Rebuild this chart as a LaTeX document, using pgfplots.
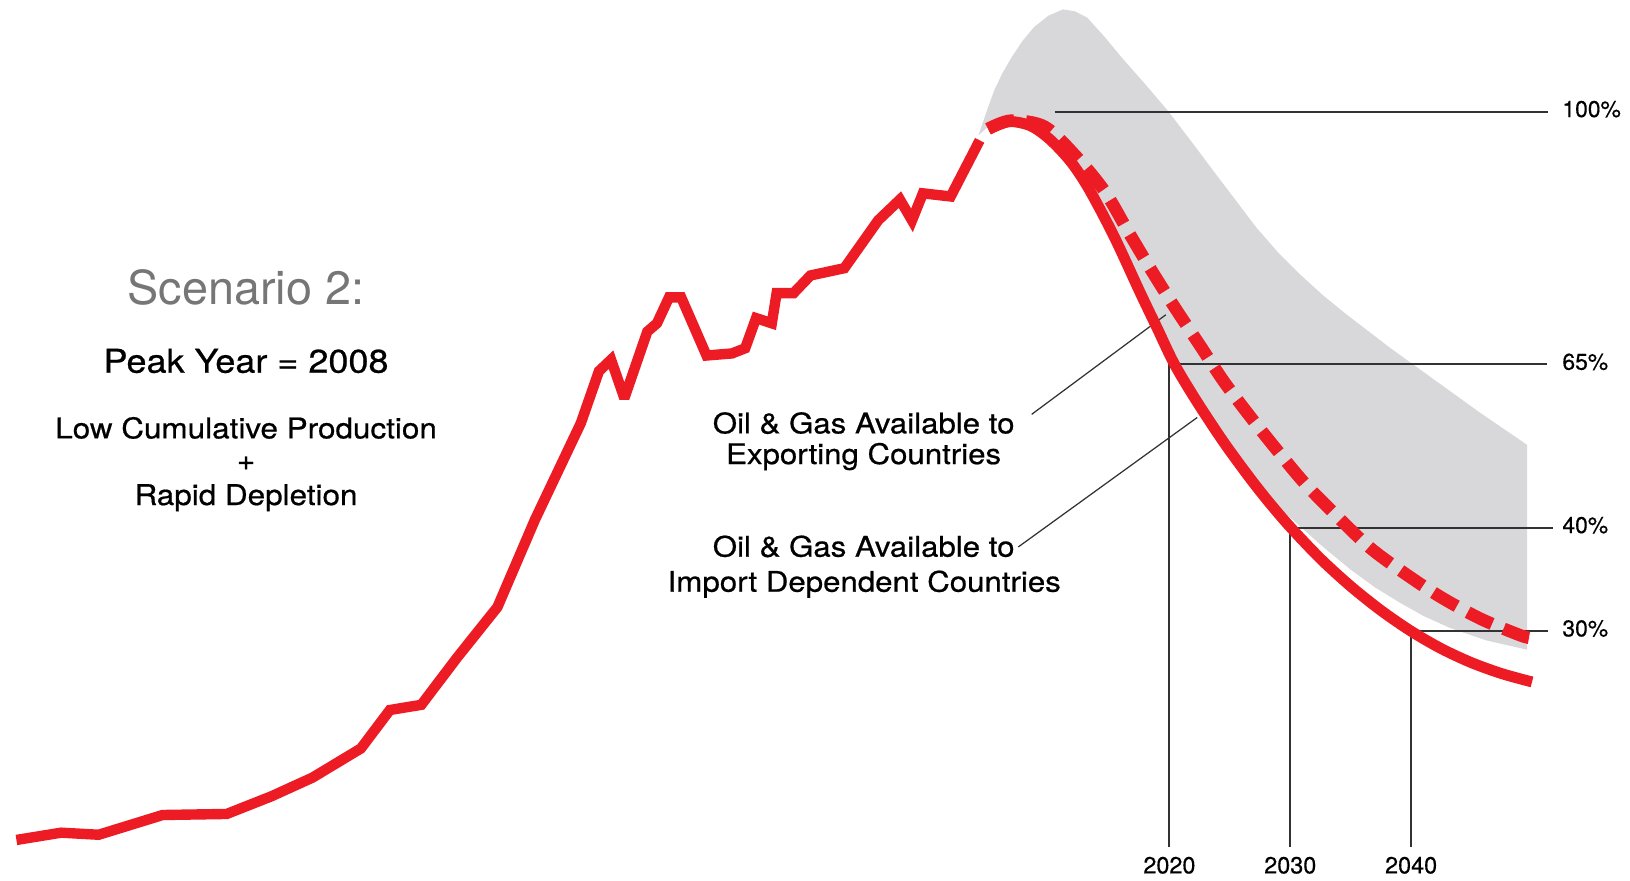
\documentclass[border=0pt]{standalone}
\usepackage{pgfplots}
\pgfplotsset{compat=1.18}
\usepackage{fontspec}
\setmainfont{TeX Gyre Heros}
\newfontfamily\wfont[FakeStretch=1.1,FakeBold=0.6]{TeX Gyre Heros}
\newfontfamily\lfont[FakeBold=0.4]{TeX Gyre Heros}
\definecolor{oilred}{RGB}{237,28,36}
\definecolor{band}{RGB}{216,216,219}
\definecolor{guide}{RGB}{50,50,50}
\definecolor{scen}{RGB}{118,118,118}
\begin{document}
\begin{tikzpicture}
\begin{axis}[hide axis, scale only axis, width=1568pt, height=847pt,
  xmin=1923.24, xmax=2058.11, ymin=0, ymax=847, clip=false]
% grey band
\addplot[fill=band, draw=none] coordinates {
(2004.2,717) (2005.0,744) (2005.5,760) (2006.2,777) (2006.9,791) (2007.8,807)
(2008.8,821) (2010.0,832) (2011.2,838) (2012.2,836) (2013.2,830) (2014.6,812)
(2016.1,791) (2018.0,766) (2019.9,740) (2022.0,708) (2024.2,674) (2027.2,628)
(2029.0,604) (2030.9,582) (2032.7,563) (2034.6,545) (2038.3,512) (2042.0,481)
(2045.7,450) (2049.6,419)
(2049.6,222) (2046.2,231) (2043.2,243) (2041.1,254) (2039.1,267) (2037.0,282)
(2035.0,299) (2032.6,322) (2030.2,347)
(2028.3,365) (2026.7,388) (2024.5,423) (2022.2,464) (2020.4,499) (2019.0,533)
(2017.6,567) (2015.4,622) (2013.3,668) (2011.8,694) (2010.1,715) (2008.5,728)
(2006.7,732) (2005.0,725)} -- cycle;
% guide lines
\addplot[guide, line width=1.8pt] coordinates {(2010.5,739.6) (2051.3,739.6)};
\addplot[guide, line width=1.8pt] coordinates {(2020,32) (2020,496.5) (2051.2,496.5)};
\addplot[guide, line width=1.8pt] coordinates {(2030,32) (2030,339.4) (2051.7,339.4)};
\addplot[guide, line width=1.8pt] coordinates {(2040,32) (2040,240) (2051.3,240)};
% leader lines
\addplot[guide, line width=1.2pt] coordinates {(2008.6,448.4) (2019.7,544.2)};
\addplot[guide, line width=1.2pt] coordinates {(2007.5,320.9) (2022.3,445.4)};
% historical production
\addplot[oilred, line width=10pt, line join=miter, miter limit=3, line cap=butt] coordinates {
(1924.6,39) (1928.3,46) (1931.4,44) (1936.7,63) (1942.0,64) (1945.7,81)
(1949.1,99) (1953.1,127) (1955.5,164) (1958.1,169) (1961.1,215) (1964.4,263)
(1967.5,347) (1971.3,440) (1972.8,490) (1973.8,501) (1974.9,464) (1976.8,528)
(1977.6,536) (1978.6,561) (1979.6,561) (1981.7,505) (1983.8,507) (1984.9,512)
(1985.8,541) (1987.1,536) (1987.5,565) (1988.9,565) (1990.3,582) (1993.1,589)
(1995.9,635) (1997.7,655) (1998.7,635) (1999.6,661) (2001.9,658) (2004.3,712)};
% exporting countries (dashed)
\addplot[oilred, line width=12pt, line cap=butt, smooth, tension=0.5, dash pattern=on 26pt off 12pt] coordinates {
(2005.0,723) (2006.9,731) (2009.7,725) (2012.4,695) (2014.7,662) (2016.6,624)
(2018.4,589) (2020.4,552) (2022.4,517) (2024.5,480) (2026.7,446) (2028.9,414)
(2031.2,382) (2033.9,350) (2036.6,320) (2039.4,296) (2042.4,273) (2045.7,252)
(2049.0,236) (2050.0,233)};
% import dependent countries (solid)
\addplot[oilred, line width=10.5pt, line cap=butt, smooth, tension=0.5] coordinates {
(2005.0,723) (2006.7,730) (2008.5,726) (2010.1,713) (2011.8,692) (2013.3,666)
(2015.4,620) (2017.6,565) (2019.0,531) (2020.4,497) (2022.2,462) (2024.5,421.5)
(2026.7,386.5) (2028.3,363) (2030.0,340) (2032.5,309.5) (2035.0,283) (2037.5,259.8)
(2040.0,239.8) (2042.5,223) (2045.0,209.5) (2047.5,199) (2050.0,191)};
% texts
\node[anchor=base, inner sep=0, text=scen, font=\fontsize{45}{50}\selectfont] at (axis cs:1943.6,553.6) {Scenario 2:};
\node[anchor=base, inner sep=0, font=\wfont\fontsize{31.5}{35}\selectfont] at (axis cs:1943.6,488.5) {Peak Year = 2008};
\node[anchor=base, inner sep=0, font=\wfont\fontsize{27.5}{30}\selectfont] at (axis cs:1943.6,425.3) {Low Cumulative Production};
\node[anchor=center, inner sep=0, font=\wfont\fontsize{27.5}{30}\selectfont] at (axis cs:1943.6,401.3) {+};
\node[anchor=base, inner sep=0, font=\wfont\fontsize{27.5}{30}\selectfont] at (axis cs:1943.6,361.2) {Rapid Depletion};
\node[anchor=base, inner sep=0, font=\wfont\fontsize{27.3}{30}\selectfont] at (axis cs:1994.7,430.1) {Oil \& Gas Available to};
\node[anchor=base, inner sep=0, font=\wfont\fontsize{27.3}{30}\selectfont] at (axis cs:1994.7,400.6) {Exporting Countries};
\node[anchor=base, inner sep=0, font=\wfont\fontsize{27.3}{30}\selectfont] at (axis cs:1994.7,311.5) {Oil \& Gas Available to};
\node[anchor=base, inner sep=0, font=\wfont\fontsize{27.3}{30}\selectfont] at (axis cs:1994.75,277.8) {Import Dependent Countries};
\node[anchor=base west, inner sep=0, font=\lfont\fontsize{22}{24}\selectfont] at (axis cs:2052.5,734.4) {100\%};
\node[anchor=base west, inner sep=0, font=\lfont\fontsize{22}{24}\selectfont] at (axis cs:2052.5,491.3) {65\%};
\node[anchor=base west, inner sep=0, font=\lfont\fontsize{22}{24}\selectfont] at (axis cs:2052.5,334.2) {40\%};
\node[anchor=base west, inner sep=0, font=\lfont\fontsize{22}{24}\selectfont] at (axis cs:2052.5,234.8) {30\%};
\node[anchor=base, inner sep=0, font=\lfont\fontsize{22.5}{24}\selectfont] at (axis cs:2020,6.8) {2020};
\node[anchor=base, inner sep=0, font=\lfont\fontsize{22.5}{24}\selectfont] at (axis cs:2030,6.8) {2030};
\node[anchor=base, inner sep=0, font=\lfont\fontsize{22.5}{24}\selectfont] at (axis cs:2040,6.8) {2040};
\end{axis}
\pgfresetboundingbox
\useasboundingbox (current axis.south west) rectangle (current axis.north east);
\end{tikzpicture}
\end{document}
